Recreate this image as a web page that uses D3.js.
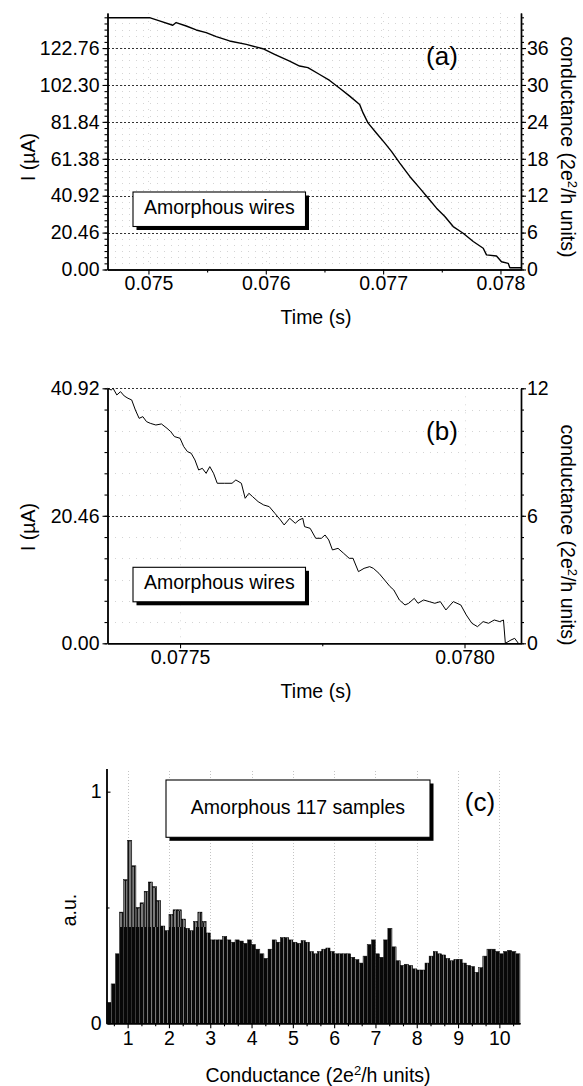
<!DOCTYPE html>
<html>
<head>
<meta charset="utf-8">
<script src="https://cdn.jsdelivr.net/npm/d3@7"></script>
<style>
  body { margin: 0; background: #fff; }
  svg { display: block; }
  text { font-family: "Liberation Sans", Arial, Helvetica, sans-serif; fill: #000; }
</style>
</head>
<body>
<div id="chart"></div>
<script>
// ---- data ----
// (a) current vs time, whole breaking trace
const timeA = [0.074651, 0.075009, 0.075094, 0.075207, 0.075236, 0.075322, 0.075407, 0.075492,
  0.075578, 0.075691, 0.075834, 0.075975, 0.076075, 0.076203, 0.076288, 0.076359, 0.076459,
  0.076544, 0.076630, 0.076715, 0.076800, 0.076829, 0.076871, 0.076942, 0.077013, 0.077071,
  0.077142, 0.077227, 0.077312, 0.077383, 0.077455, 0.077526, 0.077597, 0.077682, 0.077768,
  0.077853, 0.077881, 0.077966, 0.078009, 0.078066, 0.078080, 0.078175];
const currentA = [139.6, 139.6, 137.8, 135.4, 136.9, 135.0, 132.8, 131.3,
  129.1, 126.7, 124.8, 122.4, 119.3, 115.5, 112.8, 111.9, 108.1,
  104.8, 100.5, 96.1, 91.5, 86.8, 81.3, 75.7, 70.2, 65.5,
  59.0, 51.6, 45.1, 39.6, 34.0, 29.4, 23.8, 20.1, 15.5,
  11.8, 8.1, 7.5, 4.3, 3.4, 1.0, 1.0];

// (b) zoom on the last part of the trace
const timeB = [0.0773725, 0.077379, 0.0773823, 0.0773889, 0.0773954, 0.0774019, 0.0774085, 0.077415,
  0.0774215, 0.0774281, 0.0774346, 0.0774411, 0.0774477, 0.0774575, 0.0774673, 0.0774771, 0.0774836,
  0.0774902, 0.0775, 0.0775065, 0.077513, 0.0775196, 0.0775262, 0.0775327, 0.0775392, 0.0775458,
  0.0775523, 0.0775589, 0.0775654, 0.0775784, 0.0775914, 0.0775981, 0.0776078, 0.0776145, 0.077621,
  0.0776275, 0.0776373, 0.077647, 0.0776568, 0.0776667, 0.0776765, 0.077683, 0.0776928, 0.0777025,
  0.0777092, 0.0777157, 0.0777189, 0.0777287, 0.0777385, 0.0777484, 0.0777549, 0.0777614, 0.0777679,
  0.0777777, 0.0777876, 0.0777973, 0.077804, 0.0778136, 0.0778235, 0.0778333, 0.0778398, 0.0778496,
  0.0778595, 0.0778692, 0.0778757, 0.0778855, 0.0778954, 0.0779019, 0.0779117, 0.0779182, 0.0779281,
  0.0779379, 0.0779478, 0.0779575, 0.0779673, 0.0779803, 0.0779935, 0.0780031, 0.078013, 0.0780228,
  0.0780327, 0.0780423, 0.0780522, 0.078062, 0.0780685, 0.0780718, 0.0780817, 0.0780882, 0.0780947];
const currentB = [40.92, 40.65, 40.92, 39.85, 40.38, 39.69, 39.32, 39.05,
  37.44, 36.1, 36.37, 35.57, 35.3, 35.03, 35.2, 34.5, 33.97,
  33.17, 32.9, 31.56, 30.76, 30.49, 29.42, 27.81, 28.08, 27.28,
  28.35, 27.28, 25.68, 25.68, 25.68, 26.21, 25.68, 23.27, 24.07,
  23.54, 22.73, 22.2, 21.93, 20.86, 19.79, 18.99, 20.06, 19.26,
  19.79, 20.06, 18.72, 18.45, 16.85, 16.85, 17.38, 16.58, 14.98,
  15.24, 14.44, 13.64, 13.64, 11.5, 12.03, 12.3, 12.03, 11.23,
  10.16, 9.09, 8.56, 6.95, 6.15, 6.42, 7.22, 6.42, 6.95,
  6.69, 6.42, 6.69, 5.35, 6.69, 6.15, 4.55, 3.21, 2.67,
  3.48, 3.21, 3.74, 3.48, 3.74, 0.0, 0.53, 0.8, 0.0];

// (c) conductance histogram, 0.1 wide bins from 0.5 to 10.5
const binStart = 0.5, binWidth = 0.1;
const histValues = [
  0.09, 0.17, 0.30, 0.48, 0.62, 0.79, 0.68, 0.50, 0.52, 0.57,
  0.61, 0.59, 0.53, 0.42, 0.40, 0.47, 0.49, 0.49, 0.45, 0.41,
  0.40, 0.44, 0.48, 0.44, 0.39, 0.36, 0.36, 0.36, 0.375, 0.36,
  0.35, 0.36, 0.355, 0.345, 0.36, 0.34, 0.32, 0.30, 0.28, 0.32,
  0.36, 0.35, 0.37, 0.37, 0.36, 0.35, 0.345, 0.357, 0.35, 0.31,
  0.30, 0.31, 0.32, 0.325, 0.31, 0.30, 0.30, 0.30, 0.30, 0.285,
  0.275, 0.26, 0.29, 0.34, 0.36, 0.30, 0.285, 0.36, 0.41, 0.33,
  0.27, 0.25, 0.255, 0.25, 0.235, 0.23, 0.23, 0.26, 0.29, 0.31,
  0.30, 0.295, 0.28, 0.27, 0.276, 0.276, 0.26, 0.25, 0.245, 0.22,
  0.24, 0.29, 0.32, 0.32, 0.31, 0.30, 0.31, 0.315, 0.31, 0.30];

// ticks
const currentTicksA = [0, 20.46, 40.92, 61.38, 81.84, 102.30, 122.76];
const condTicksA = [0, 6, 12, 18, 24, 30, 36];
const timeTicksA = [0.075, 0.076, 0.077, 0.078];
const timeMinorA = [0.0755, 0.0765, 0.0775];
const currentTicksB = [0, 20.46, 40.92];
const condTicksB = [0, 6, 12];
const timeTicksB = [0.0775, 0.0780];
const timeMinorB = [0.07775];
const condTicksC = [1, 2, 3, 4, 5, 6, 7, 8, 9, 10];
const auTicksC = [0, 1];
const auMinorC = [0.5];
const perUnit = 20.46 / 6; // µA per conductance unit

const W = 583, H = 1086;
const FONT = 19.5;

const svg = d3.select("#chart").append("svg")
  .attr("width", W).attr("height", H)
  .attr("viewBox", `0 0 ${W} ${H}`);

svg.append("rect").attr("width", W).attr("height", H).attr("fill", "#fff");

const defs = svg.append("defs");
const dark = defs.append("pattern").attr("id", "darkHatch")
  .attr("patternUnits", "userSpaceOnUse").attr("width", 4).attr("height", 6);
dark.append("rect").attr("width", 4).attr("height", 6).attr("fill", "#080808");
dark.append("rect").attr("x", 3).attr("width", 0.7).attr("height", 6).attr("fill", "#a8a8a8");
const grey = defs.append("pattern").attr("id", "greyHatch")
  .attr("patternUnits", "userSpaceOnUse").attr("width", 3).attr("height", 6);
grey.append("rect").attr("width", 3).attr("height", 6).attr("fill", "#7a7a7a");
grey.append("rect").attr("x", 2).attr("width", 1).attr("height", 6).attr("fill", "#151515");

function styleAxis(g) {
  g.attr("font-size", FONT).attr("font-family", null);
  g.selectAll("path.domain").attr("stroke", "#000").attr("stroke-width", 1.4);
  g.selectAll(".tick line").attr("stroke", "#000").attr("stroke-width", 1.1);
}

function condLabel(sel, x, y, angle) {
  const t = sel.append("text")
    .attr("transform", `translate(${x},${y}) rotate(${angle})`)
    .attr("text-anchor", "middle")
    .attr("dy", "0.35em")
    .attr("font-size", FONT);
  t.append("tspan").text("conductance (2e");
  t.append("tspan").attr("dy", -7).attr("font-size", 13).text("2");
  t.append("tspan").attr("dy", 7).text("/h units)");
}

function legendBox(x, y, w, h, label, tx, ty, anchor) {
  svg.append("rect").attr("x", x + 3.5).attr("y", y + 3.5).attr("width", w).attr("height", h)
    .attr("fill", "#000");
  svg.append("rect").attr("x", x).attr("y", y).attr("width", w).attr("height", h)
    .attr("fill", "#fff").attr("stroke", "#000").attr("stroke-width", 1.1);
  svg.append("text").attr("x", tx).attr("y", ty).attr("text-anchor", anchor)
    .attr("font-size", FONT).text(label);
}

// ---------- panel (a) / (b) ----------
function tracePanel(opt) {
  const x = d3.scaleLinear().domain(opt.xDomain).range([107.5, 521]);
  const y = d3.scaleLinear().domain([0, opt.yMax]).range([opt.bottom, opt.top]);
  const yc = d3.scaleLinear().domain([0, opt.yMax / perUnit]).range([opt.bottom, opt.top]);
  const minorCond = d3.range(0, Math.floor(opt.yMax / perUnit) + 1);

  // faint minor grid
  svg.append("g").selectAll("line").data(minorCond).join("line")
    .attr("x1", 108).attr("x2", 520)
    .attr("y1", d => Math.round(yc(d)) + 0.5).attr("y2", d => Math.round(yc(d)) + 0.5)
    .attr("stroke", "#d4d4d4").attr("stroke-width", 1).attr("stroke-dasharray", "1,6");
  svg.append("g").selectAll("line").data(opt.xTicks).join("line")
    .attr("x1", d => Math.round(x(d)) + 0.5).attr("x2", d => Math.round(x(d)) + 0.5)
    .attr("y1", opt.top).attr("y2", opt.bottom)
    .attr("stroke", "#d8d8d8").attr("stroke-width", 1).attr("stroke-dasharray", "1,7");

  // major grid
  svg.append("g").selectAll("line").data(opt.yTicks.filter(d => d > 0)).join("line")
    .attr("x1", 108).attr("x2", 520)
    .attr("y1", d => Math.round(y(d)) + 0.5).attr("y2", d => Math.round(y(d)) + 0.5)
    .attr("stroke", "#333").attr("stroke-width", 1).attr("stroke-dasharray", "2,2");

  legendBox(133, opt.legendY, 172.5, 34.5, "Amorphous wires", 144, opt.legendY + 22, "start");

  const line = d3.line().x(d => x(d[0])).y(d => y(d[1]));
  svg.append("path")
    .datum(d3.zip(opt.time, opt.current))
    .attr("d", line)
    .attr("fill", "none").attr("stroke", "#000")
    .attr("stroke-width", opt.lineW).attr("stroke-linejoin", "round");

  // axes
  svg.append("g").attr("transform", `translate(107.5,0)`)
    .call(d3.axisLeft(yc).tickValues(minorCond).tickSize(3).tickFormat("").tickSizeOuter(0))
    .call(styleAxis);
  svg.append("g").attr("transform", `translate(107.5,0)`)
    .call(d3.axisLeft(y).tickValues(opt.yTicks).tickFormat(d3.format(".2f"))
      .tickSize(5).tickPadding(3).tickSizeOuter(0))
    .call(styleAxis);
  svg.append("g").attr("transform", `translate(521,0)`)
    .call(d3.axisRight(yc).tickValues(minorCond).tickSize(3).tickFormat("").tickSizeOuter(0))
    .call(styleAxis);
  svg.append("g").attr("transform", `translate(521,0)`)
    .call(d3.axisRight(yc).tickValues(opt.condTicks).tickFormat(d3.format("d"))
      .tickSize(5).tickPadding(1).tickSizeOuter(0))
    .call(styleAxis);
  svg.append("g").attr("transform", `translate(0,${opt.bottom})`)
    .call(d3.axisBottom(x).tickValues(opt.xMinor).tickSize(3).tickFormat("").tickSizeOuter(0))
    .call(styleAxis);
  svg.append("g").attr("transform", `translate(0,${opt.bottom})`)
    .call(d3.axisBottom(x).tickValues(opt.xTicks).tickFormat(d3.format(opt.xFmt))
      .tickSize(5).tickPadding(2).tickSizeOuter(0))
    .call(styleAxis);

  svg.append("text").attr("x", 316).attr("y", opt.bottom + 54.5)
    .attr("text-anchor", "middle").attr("font-size", FONT).text("Time (s)");
  svg.append("text")
    .attr("transform", `translate(28,${opt.labelY}) rotate(-90)`)
    .attr("text-anchor", "middle").attr("dy", "0.35em")
    .attr("font-size", FONT).text("I (µA)");
  condLabel(svg, 568, opt.condLabelY, 90);
  svg.append("text").attr("x", 442).attr("y", opt.tagY)
    .attr("text-anchor", "middle").attr("font-size", 26).text(opt.tag);
}

tracePanel({
  time: timeA, current: currentA, xDomain: [0.074651, 0.078175], yMax: 142.2,
  top: 13, bottom: 269.5, yTicks: currentTicksA, condTicks: condTicksA,
  xTicks: timeTicksA, xMinor: timeMinorA, xFmt: ".3f", lineW: 1.4,
  legendY: 192, labelY: 157, condLabelY: 147, tag: "(a)", tagY: 65
});

tracePanel({
  time: timeB, current: currentB, xDomain: [0.0773725, 0.0780993], yMax: 40.92,
  top: 388.3, bottom: 643.3, yTicks: currentTicksB, condTicks: condTicksB,
  xTicks: timeTicksB, xMinor: timeMinorB, xFmt: ".4f", lineW: 1.0,
  legendY: 567.3, labelY: 527, condLabelY: 535, tag: "(b)", tagY: 440
});

// ---------- panel (c) ----------
const xC = d3.scaleLinear().domain([0.5, 10.5]).range([107, 520]);
const yC = d3.scaleLinear().domain([0, 1.1]).range([1023.3, 768.5]);
const bins = histValues.map((v, i) => ({ x0: binStart + i * binWidth, v }));
const thirds = d3.range(2, 32).map(k => k / 3).filter(d => Math.abs(d - Math.round(d)) > 0.01);

svg.append("g").selectAll("line").data(condTicksC).join("line")
  .attr("x1", d => Math.round(xC(d)) + 0.5).attr("x2", d => Math.round(xC(d)) + 0.5)
  .attr("y1", 771).attr("y2", 1023)
  .attr("stroke", "#c4c4c4").attr("stroke-width", 1).attr("stroke-dasharray", "1,2");

legendBox(166, 780, 264, 57.3, "Amorphous 117 samples", 298, 814, "middle");

svg.append("g").selectAll("rect").data(bins).join("rect")
  .attr("x", d => xC(d.x0))
  .attr("width", xC(binWidth) - xC(0))
  .attr("y", d => yC(d.v))
  .attr("height", d => yC(0) - yC(d.v))
  .attr("fill", "url(#darkHatch)")
  .attr("stroke", "#000").attr("stroke-width", 0.5);

// lighter tops where the histogram peaks
svg.append("g").selectAll("rect").data(bins.filter(d => d.v > 0.42)).join("rect")
  .attr("x", d => xC(d.x0) + 0.5)
  .attr("width", xC(binWidth) - xC(0) - 1)
  .attr("y", d => yC(d.v) + 1)
  .attr("height", d => yC(0.42) - yC(d.v))
  .attr("fill", "url(#greyHatch)");

svg.append("g").attr("transform", "translate(0,1023.3)")
  .call(d3.axisBottom(xC).tickValues(thirds).tickSize(3).tickFormat("").tickSizeOuter(0))
  .call(styleAxis);
svg.append("g").attr("transform", "translate(0,1023.3)")
  .call(d3.axisBottom(xC).tickValues(condTicksC).tickFormat(d3.format("d"))
    .tickSize(5).tickPadding(3).tickSizeOuter(0))
  .call(styleAxis);
svg.append("g").attr("transform", "translate(106.5,0)")
  .call(d3.axisRight(yC).tickValues(auMinorC).tickSize(3).tickFormat("").tickSizeOuter(0))
  .call(styleAxis);
const yAxC = svg.append("g").attr("transform", "translate(106.5,0)")
  .call(d3.axisRight(yC).tickValues(auTicksC).tickFormat(d3.format("d"))
    .tickSize(4).tickSizeOuter(0))
  .call(styleAxis);
yAxC.selectAll(".tick text").attr("x", -5).attr("text-anchor", "end");

svg.append("text")
  .attr("transform", "translate(69,910) rotate(-90)")
  .attr("text-anchor", "middle").attr("dy", "0.35em")
  .attr("font-size", FONT).text("a.u.");
svg.append("text").attr("x", 480).attr("y", 811)
  .attr("text-anchor", "middle").attr("font-size", 26).text("(c)");

const xl = svg.append("text").attr("x", 318).attr("y", 1082)
  .attr("text-anchor", "middle").attr("font-size", FONT);
xl.append("tspan").text("Conductance (2e");
xl.append("tspan").attr("dy", -7).attr("font-size", 13).text("2");
xl.append("tspan").attr("dy", 7).text("/h units)");
</script>
</body>
</html>
